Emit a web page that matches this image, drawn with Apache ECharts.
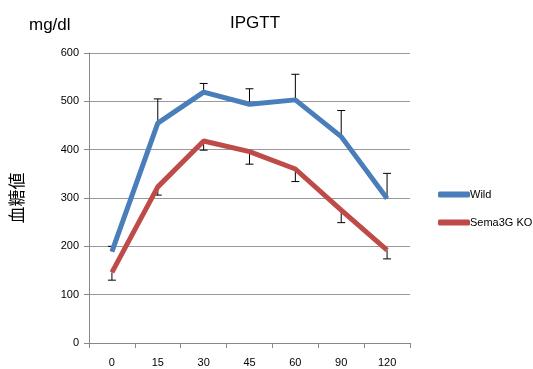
<!DOCTYPE html>
<html><head><meta charset="utf-8">
<script src="https://cdn.jsdelivr.net/npm/echarts@6/dist/echarts.min.js"></script>
<style>html,body{margin:0;padding:0;background:#fff}#c{width:533px;height:369px}</style>
</head><body><div id="c"></div>
<script>
const categories = ['0','15','30','45','60','90','120'];
const wild = [189, 455, 519, 494, 503, 427, 299];
const wildErrTop = [200, 505, 537, 526, 556, 481, 351];
const ko = [146, 323, 418, 396, 360, 275, 192];
const koErrBottom = [130, 306, 399, 370, 334, 249, 174];
const yTicks = [0, 100, 200, 300, 400, 500, 600];

const chart = echarts.init(document.getElementById('c'));
function errSeries(base, ends) {
  return {
    type: 'custom', silent: true, z: 1,
    data: base.map((v, i) => [i, v, ends[i]]),
    renderItem: function (params, api) {
      const p1 = api.coord([api.value(0), api.value(1)]);
      const p2 = api.coord([api.value(0), api.value(2)]);
      const w = 4;
      const st = {stroke: '#000', lineWidth: 1};
      return {type: 'group', children: [
        {type: 'line', shape: {x1: p1[0], y1: p1[1], x2: p2[0], y2: p2[1]}, style: st},
        {type: 'line', shape: {x1: p2[0] - w, y1: p2[1], x2: p2[0] + w, y2: p2[1]}, style: st}
      ]};
    }
  };
}
chart.setOption({
  animation: false,
  title: {text: 'IPGTT', left: 250, top: 10, textAlign: 'center',
    textStyle: {fontFamily: 'Liberation Sans', fontSize: 17, fontWeight: 'normal', color: '#000'}},
  graphic: [{type: 'text', left: 29, top: 17,
    style: {text: 'mg/dl', font: '17px "Liberation Sans"', fill: '#000'}}],
  legend: {
    orient: 'vertical', left: 433, top: 184, itemGap: 17, itemWidth: 32, itemHeight: 6,
    icon: 'roundRect',
    textStyle: {fontFamily: 'Liberation Sans', fontSize: 11, color: '#000', padding: [0, 0, 0, -5]},
    data: ['Wild', 'Sema3G KO']
  },
  grid: {left: 87, top: 53, right: 123, bottom: 26},
  xAxis: {
    type: 'category', data: categories, boundaryGap: true,
    axisLine: {lineStyle: {color: '#888', width: 1}},
    axisTick: {show: true, inside: false, length: 5, lineStyle: {color: '#888'}},
    axisLabel: {color: '#000', fontFamily: 'Liberation Sans', fontSize: 11, margin: 14}
  },
  yAxis: {
    type: 'value', min: 0, max: 600, interval: 100,
    name: '血糖値', nameLocation: 'middle', nameRotate: 90, nameGap: 64,
    nameTextStyle: {fontFamily: 'Noto Sans CJK JP', fontSize: 17, color: '#000'},
    axisLine: {show: true, lineStyle: {color: '#888'}},
    axisTick: {show: true, length: 5, lineStyle: {color: '#888'}},
    axisLabel: {color: '#000', fontFamily: 'Liberation Sans', fontSize: 11, margin: 10,
      formatter: v => yTicks.includes(v) ? String(v) : ''},
    splitLine: {lineStyle: {color: '#999', width: 1}}
  },
  series: [
    errSeries(wild, wildErrTop),
    errSeries(ko, koErrBottom),
    {name: 'Wild', type: 'line', data: wild, symbol: 'none', z: 3,
      lineStyle: {color: '#4a7ebb', width: 5}, itemStyle: {color: '#4a7ebb'}},
    {name: 'Sema3G KO', type: 'line', data: ko, symbol: 'none', z: 3,
      lineStyle: {color: '#be4b48', width: 5}, itemStyle: {color: '#be4b48'}}
  ]
});
</script></body></html>
